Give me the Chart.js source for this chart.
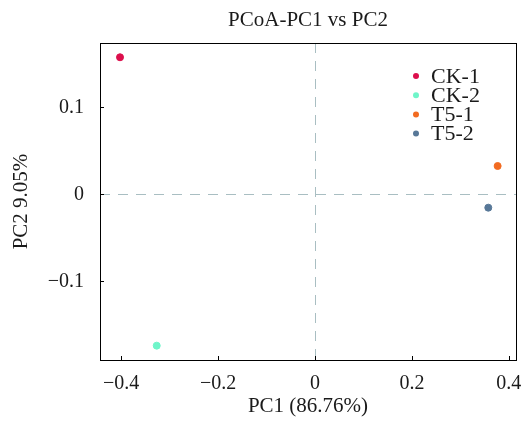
<!DOCTYPE html>
<html>
<head>
<meta charset="utf-8">
<script src="https://cdn.jsdelivr.net/npm/chart.js@4/dist/chart.umd.min.js"></script>
<style>
  html, body { margin: 0; padding: 0; background: #fff; }
  #wrap { width: 523px; height: 422px; }
</style>
</head>
<body>
<div id="wrap"><canvas id="chart-pcoa"></canvas></div>
<script>
// samples and their PCoA coordinates
var sampleNames = ["CK-1", "CK-2", "T5-1", "T5-2"];
var pc1Values = [-0.4025, -0.3267, 0.377, 0.3577];
var pc2Values = [0.1575, -0.174, 0.0325, -0.0154];
var sampleColors = ["#DC0F4C", "#6FF5C9", "#F26B21", "#587898"];

var FONT = "'Liberation Serif', 'Times New Roman', serif";
var TEXT = "#1a1a1a";

function fmtTick(v) {
    var r = Math.round(v * 10) / 10;
    if (r === 0) return "0";
    return (r < 0 ? "\u2212" : "") + Math.abs(r).toFixed(1);
}

// frame, inward ticks, dashed zero lines, legend inside the plot
var framePlugin = {
    id: 'frame',
    beforeDatasetsDraw: function (chart) {
        var ctx = chart.ctx, a = chart.chartArea;
        var xs = chart.scales.x, ys = chart.scales.y;
        ctx.save();
        ctx.strokeStyle = "#A9BEC2";
        ctx.lineWidth = 1;
        ctx.setLineDash([10, 8]);
        var x0 = Math.round(xs.getPixelForValue(0)) + 0.5;
        var y0 = Math.round(ys.getPixelForValue(0)) + 0.5;
        ctx.beginPath();
        ctx.moveTo(x0, a.top); ctx.lineTo(x0, a.bottom);
        ctx.moveTo(a.left, y0); ctx.lineTo(a.right, y0);
        ctx.stroke();
        ctx.restore();
    },
    afterDatasetsDraw: function (chart) {
        var ctx = chart.ctx, a = chart.chartArea;
        var xs = chart.scales.x, ys = chart.scales.y;
        ctx.save();
        ctx.strokeStyle = "#000";
        ctx.lineWidth = 1;
        ctx.setLineDash([]);
        ctx.strokeRect(Math.round(a.left) + 0.5, Math.round(a.top) + 0.5,
            Math.round(a.right - a.left), Math.round(a.bottom - a.top));
        ctx.beginPath();
        xs.ticks.forEach(function (t) {
            var px = Math.round(xs.getPixelForValue(t.value)) + 0.5;
            ctx.moveTo(px, a.bottom); ctx.lineTo(px, a.bottom - 4);
        });
        ys.ticks.forEach(function (t) {
            var py = Math.round(ys.getPixelForValue(t.value)) + 0.5;
            ctx.moveTo(a.left, py); ctx.lineTo(a.left + 4, py);
        });
        ctx.stroke();

        // legend
        ctx.font = "22px " + FONT;
        ctx.textBaseline = "middle";
        ctx.textAlign = "left";
        chart.data.datasets.forEach(function (ds, i) {
            var ly = a.top + 33 + i * 19.2;
            ctx.fillStyle = ds.backgroundColor;
            ctx.beginPath();
            ctx.arc(a.right - 100, ly, 3, 0, Math.PI * 2);
            ctx.fill();
            ctx.fillStyle = TEXT;
            ctx.fillText(ds.label, a.right - 85, ly + 1);
        });
        ctx.restore();
    }
};

var datasets = sampleNames.map(function (name, i) {
    return {
        label: name,
        data: [{ x: pc1Values[i], y: pc2Values[i] }],
        backgroundColor: sampleColors[i],
        borderColor: sampleColors[i],
        pointRadius: 3.5,
        pointHoverRadius: 3.5
    };
});

var ctx = document.getElementById('chart-pcoa');
new Chart(ctx, {
    type: 'scatter',
    data: { datasets: datasets },
    options: {
        responsive: true,
        maintainAspectRatio: false,
        animation: false,
        layout: { padding: { left: 0, right: 7, top: 0, bottom: 0 } },
        plugins: {
            legend: { display: false },
            tooltip: { enabled: false },
            title: {
                display: true,
                text: "PCoA-PC1 vs PC2",
                fullSize: false,
                color: TEXT,
                font: { family: FONT, size: 21, weight: 'normal' },
                padding: { top: 8, bottom: 9.8 }
            }
        },
        scales: {
            x: {
                type: 'linear',
                min: -0.4438,
                max: 0.4149,
                afterFit: function (s) { s.height = 62; s.paddingLeft = 0; s.paddingRight = 0; },
                grid: { display: false, drawTicks: false },
                border: { display: false },
                ticks: {
                    stepSize: 0.2,
                    includeBounds: false,
                    padding: 12,
                    color: TEXT,
                    font: { family: FONT, size: 20 },
                    maxRotation: 0,
                    callback: fmtTick
                },
                title: {
                    display: true,
                    text: "PC1 (86.76%)",
                    color: TEXT,
                    font: { family: FONT, size: 21 },
                    padding: { top: 0, bottom: 3 }
                }
            },
            y: {
                type: 'linear',
                min: -0.1905,
                max: 0.1739,
                afterFit: function (s) { s.width = 100; s.paddingTop = 0; s.paddingBottom = 0; },
                grid: { display: false, drawTicks: false },
                border: { display: false },
                ticks: {
                    stepSize: 0.1,
                    includeBounds: false,
                    padding: 16,
                    color: TEXT,
                    font: { family: FONT, size: 20 },
                    callback: fmtTick
                },
                title: {
                    display: true,
                    text: "PC2 9.05%",
                    color: TEXT,
                    font: { family: FONT, size: 21 },
                    padding: { top: 9, bottom: 0 }
                }
            }
        }
    },
    plugins: [framePlugin]
});
</script>
</body>
</html>
